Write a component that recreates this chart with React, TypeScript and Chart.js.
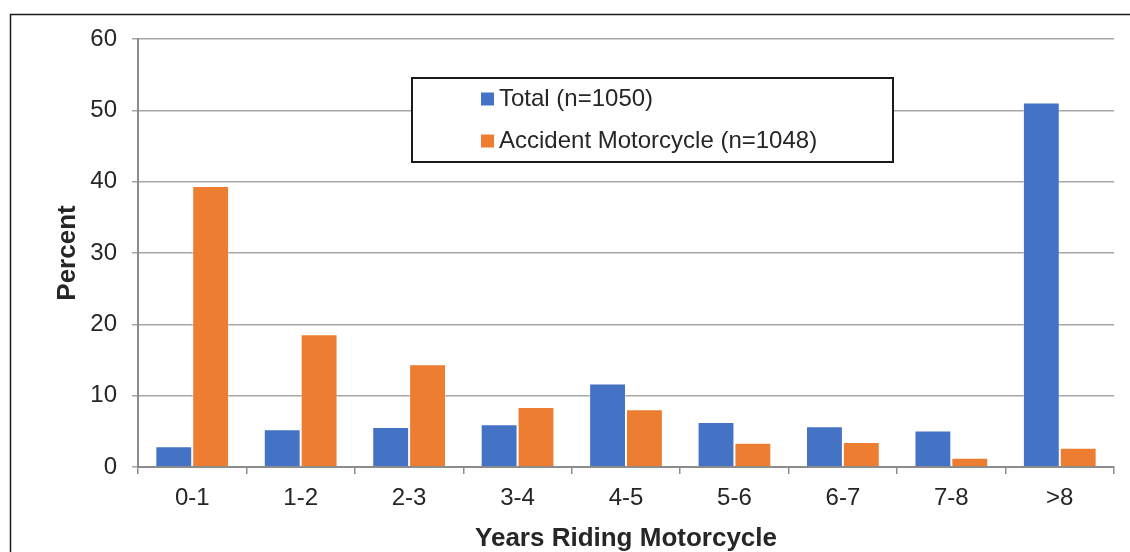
import React, { useEffect, useRef } from "react";
import { Chart, registerables } from "chart.js";

Chart.register(...registerables);

const categories = ["0-1", "1-2", "2-3", "3-4", "4-5", "5-6", "6-7", "7-8", ">8"];
const totalValues = [2.9, 5.3, 5.6, 6.0, 11.7, 6.3, 5.7, 5.1, 51.1];
const accidentValues = [39.4, 18.6, 14.4, 8.4, 8.1, 3.4, 3.5, 1.3, 2.7];
const seriesLabels = ["Total (n=1050)", "Accident Motorcycle (n=1048)"];
const seriesColors = ["#4472C4", "#ED7D31"];
const yTicks = [0, 10, 20, 30, 40, 50, 60];

const FONT = "'Liberation Sans', Arial, Helvetica, sans-serif";
const TEXT = "#262626";

const framePlugin = {
  id: "frameAndLegend",
  afterDraw(chart: any) {
    const ctx = chart.ctx;
    ctx.save();
    // outer frame
    ctx.strokeStyle = "#1a1a1a";
    ctx.lineWidth = 1.5;
    ctx.strokeRect(10.5, 14.5, 1200, 700);
    // legend box
    const x0 = 412, y0 = 78, x1 = 893, y1 = 162;
    ctx.fillStyle = "#ffffff";
    ctx.fillRect(x0, y0, x1 - x0, y1 - y0);
    ctx.strokeStyle = "#1a1a1a";
    ctx.lineWidth = 2;
    ctx.strokeRect(x0, y0, x1 - x0, y1 - y0);
    const rows = [99, 141];
    chart.data.datasets.forEach((ds: any, i: number) => {
      const cy = rows[i];
      ctx.fillStyle = ds.backgroundColor;
      ctx.fillRect(481, cy - 6.5, 13, 13);
      ctx.fillStyle = TEXT;
      ctx.font = `24px ${FONT}`;
      ctx.textBaseline = "middle";
      ctx.textAlign = "left";
      ctx.fillText(ds.label, 499, cy);
    });
    ctx.restore();
  },
};

export default function App() {
  const ref = useRef<HTMLCanvasElement | null>(null);
  useEffect(() => {
    document.body.style.margin = "0";
    const chart = new Chart(ref.current as HTMLCanvasElement, {
      type: "bar",
      data: {
        labels: categories,
        datasets: [
          {
            label: seriesLabels[0],
            data: totalValues,
            backgroundColor: seriesColors[0],
            borderColor: "rgba(255,255,255,0.35)",
            borderWidth: 1,
            categoryPercentage: 0.68,
            barPercentage: 1.0,
          },
          {
            label: seriesLabels[1],
            data: accidentValues,
            backgroundColor: seriesColors[1],
            borderColor: "rgba(255,255,255,0.35)",
            borderWidth: 1,
            categoryPercentage: 0.68,
            barPercentage: 1.0,
          },
        ],
      },
      options: {
        animation: false,
        responsive: true,
        maintainAspectRatio: false,
        layout: { padding: { left: 0, top: 39, right: 16, bottom: 0 } },
        plugins: {
          legend: { display: false },
          tooltip: { enabled: false },
        },
        scales: {
          x: {
            grid: {
              drawOnChartArea: false,
              drawTicks: true,
              tickLength: 7,
              color: "#8c8c8c",
              lineWidth: 1.5,
              offset: true,
            },
            border: { color: "#8c8c8c", width: 2 },
            ticks: {
              color: TEXT,
              font: { family: FONT, size: 24 },
              padding: 10,
            },
            title: {
              display: true,
              text: "Years Riding Motorcycle",
              color: TEXT,
              font: { family: FONT, size: 26, weight: "bold", lineHeight: 1.0 },
              padding: { top: 0, bottom: 0 },
            },
            afterFit: (scale: any) => {
              scale.height = 85;
            },
          },
          y: {
            min: 0,
            max: 60,
            afterBuildTicks: (scale: any) => {
              scale.ticks = yTicks.map((v) => ({ value: v }));
            },
            grid: {
              color: "#a6a6a6",
              lineWidth: 1.5,
              tickLength: 6,
              drawTicks: true,
            },
            border: { color: "#8c8c8c", width: 2 },
            ticks: {
              color: TEXT,
              font: { family: FONT, size: 24 },
              padding: 15,
            },
            title: {
              display: true,
              text: "Percent",
              color: TEXT,
              font: { family: FONT, size: 26, weight: "bold", lineHeight: 1.0 },
              padding: { top: 55, bottom: 0 },
            },
            afterFit: (scale: any) => {
              scale.width = 138;
            },
          },
        },
      },
      plugins: [framePlugin],
    });
    return () => chart.destroy();
  }, []);
  return (
    <div style={{ position: "absolute", left: 0, top: 0, width: 1130, height: 552, background: "#fff" }}>
      <canvas ref={ref} />
    </div>
  );
}
